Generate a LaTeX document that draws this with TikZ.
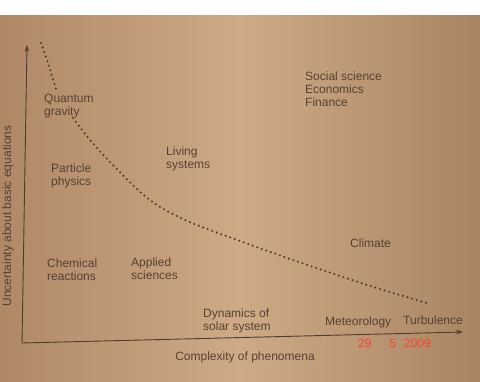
\documentclass[tikz,border=0pt]{standalone}
\usepackage{fontspec}
\setmainfont{Liberation Sans}
\usetikzlibrary{arrows.meta}

\definecolor{paper}{RGB}{206,170,134}
\definecolor{paperleft}{RGB}{176,136,102}
\definecolor{paperright}{RGB}{168,132,98}
\definecolor{ink}{RGB}{84,66,52}
\definecolor{inkdark}{RGB}{78,60,46}
\definecolor{stamp}{RGB}{255,64,52}

\begin{document}
\begin{tikzpicture}[
  x=1pt, y=-1pt,
  font=\fontsize{12}{13}\selectfont,
  lbl/.style={anchor=west, align=left, inner sep=0pt, text=ink},
  axis/.style={-{Stealth[length=2.4mm,width=1.6mm]}, line width=0.9pt, draw=inkdark},
  dots/.style={draw=inkdark, line width=2.3pt, line cap=round, dash pattern=on 0pt off 4.8pt}
]
\useasboundingbox (0,0) rectangle (480,382);
\fill[white] (0,0) rectangle (480,16);
\shade[left color=paperleft, right color=paperright, middle color=paper] (0,16) rectangle (480,382);

% axes
\coordinate (origin) at (22,343);
\coordinate (ytop) at (27,45);
\coordinate (xend) at (463,332);
\draw[axis] (origin) -- (ytop);
\draw[axis] (origin) -- (xend);

\node[lbl, anchor=center, rotate=90] (ylab) at (8,216) {Uncertainty about basic equations};
\node[lbl, anchor=center] (xlab) at (245,357) {Complexity of phenomena};

% fields
\node[lbl] (quantum) at (44,106) {Quantum\\gravity};
\node[lbl] (particle) at (51,176) {Particle\\physics};
\node[lbl] (living) at (166,159) {Living\\systems};
\node[lbl] (social) at (305,89) {Social science\\Economics\\Finance};
\node[lbl] (chemical) at (47,270) {Chemical\\reactions};
\node[lbl] (applied) at (131,269) {Applied\\sciences};
\node[lbl] (climate) at (350,243) {Climate};
\node[lbl] (solar) at (203,321) {Dynamics of\\solar system};
\node[lbl] (meteo) at (325,322) {Meteorology};
\node[lbl] (turb) at (403,320) {Turbulence};

% boundary
\draw[dots] plot[smooth] coordinates {(41,43) (47,60) (52,76) (57,92)};
\draw[dots] plot[smooth] coordinates {(73,118) (90,140) (110,162) (138,190) (160,207) (192,223) (240,241) (290,259) (340,276) (380,289) (430,304)};

\node[lbl, text=stamp] (date) at (358,343) {29\hspace{18pt}5\hspace{8pt}2009};
\end{tikzpicture}
\end{document}
